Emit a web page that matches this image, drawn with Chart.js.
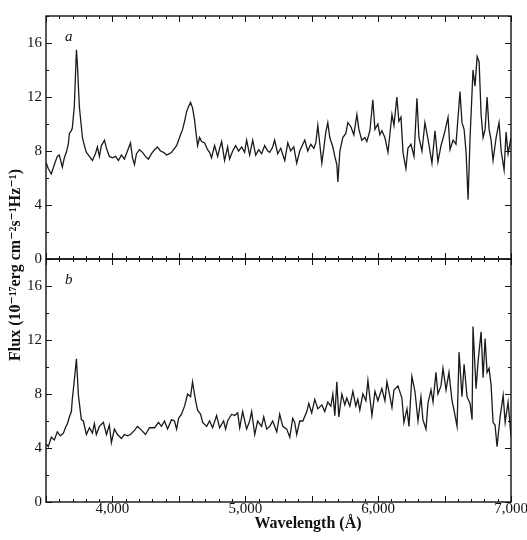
<!DOCTYPE html>
<html>
<head>
<meta charset="utf-8">
<script src="https://cdn.jsdelivr.net/npm/chart.js@4.4.1/dist/chart.umd.min.js"></script>
<style>
  html, body { margin: 0; padding: 0; background: #fff; }
  #wrap { width: 527px; height: 540px; }
</style>
</head>
<body>
<div id="wrap"><canvas id="spectra" width="527" height="540"></canvas></div>
<script>
// wavelength (Angstrom) and flux (1e-27 erg cm^-2 s^-1 Hz^-1)
var waveA = [3502, 3517, 3540, 3563, 3585, 3600, 3623, 3638, 3653, 3668, 3676, 3691, 3698, 3713, 3729, 3736, 3751, 3774, 3789, 3804,
    3827, 3849, 3872, 3887, 3902, 3917, 3940, 3955, 3977, 4000, 4023, 4045, 4068, 4090, 4113, 4136, 4151, 4166, 4181, 4204,
    4226, 4249, 4271, 4294, 4317, 4339, 4362, 4385, 4407, 4430, 4445, 4467, 4483, 4505, 4528, 4543, 4558, 4573, 4588, 4603,
    4618, 4626, 4641, 4656, 4671, 4694, 4716, 4731, 4746, 4769, 4792, 4807, 4822, 4844, 4867, 4882, 4905, 4927, 4950, 4973,
    4995, 5010, 5033, 5056, 5078, 5101, 5123, 5146, 5169, 5184, 5206, 5221, 5244, 5267, 5297, 5320, 5342, 5365, 5387, 5410,
    5433, 5448, 5470, 5493, 5516, 5531, 5546, 5561, 5576, 5591, 5606, 5621, 5636, 5659, 5674, 5689, 5697, 5712, 5734, 5757,
    5772, 5795, 5817, 5840, 5855, 5877, 5900, 5915, 5938, 5960, 5976, 5998, 6013, 6028, 6051, 6074, 6089, 6104, 6119, 6141,
    6156, 6172, 6187, 6209, 6224, 6247, 6270, 6292, 6307, 6330, 6352, 6375, 6405, 6428, 6450, 6473, 6496, 6526, 6541, 6564,
    6586, 6616, 6631, 6647, 6662, 6677, 6692, 6714, 6729, 6745, 6760, 6775, 6790, 6805, 6820, 6835, 6850, 6865, 6888, 6910,
    6926, 6948, 6963, 6978, 7000];
var fluxA = [7.1, 6.7, 6.3, 7.0, 7.6, 7.7, 6.8, 7.5, 7.9, 8.5, 9.3, 9.5, 9.7, 11.3, 15.5, 14.5, 11.3, 9.0, 8.4, 7.9,
    7.6, 7.3, 7.8, 8.3, 7.6, 8.4, 8.8, 8.2, 7.6, 7.5, 7.6, 7.3, 7.7, 7.4, 8.0, 8.6, 7.5, 7.0, 7.8, 8.1,
    7.9, 7.6, 7.4, 7.8, 8.1, 8.3, 8.0, 7.9, 7.7, 7.8, 7.9, 8.2, 8.4, 9.0, 9.6, 10.2, 10.9, 11.3, 11.6, 11.2,
    10.3, 9.6, 8.4, 9.0, 8.7, 8.6, 8.1, 7.9, 7.5, 8.4, 7.6, 8.2, 8.7, 7.3, 8.3, 7.4, 8.0, 8.4, 8.0, 8.3,
    7.9, 8.8, 7.7, 8.8, 7.7, 8.1, 7.8, 8.4, 8.0, 7.9, 8.3, 8.8, 7.8, 8.2, 7.3, 8.6, 8.0, 8.3, 7.1, 8.0,
    8.5, 8.8, 8.0, 8.5, 8.2, 8.6, 9.9, 8.5, 7.1, 8.2, 9.4, 10.1, 9.0, 8.3, 7.6, 7.0, 5.7, 8.0, 9.0, 9.3,
    10.1, 9.8, 9.2, 10.7, 9.6, 8.8, 9.0, 8.7, 9.5, 11.8, 9.6, 10.0, 9.2, 9.5, 9.0, 7.9, 9.3, 10.7, 9.9, 12.0,
    10.2, 10.5, 7.9, 6.7, 8.2, 8.5, 7.6, 11.9, 9.0, 8.0, 10.1, 8.9, 7.1, 9.5, 7.2, 8.4, 9.2, 10.5, 8.1, 8.8,
    8.5, 12.4, 10.1, 9.6, 7.9, 4.4, 9.0, 14.0, 12.8, 15.0, 14.6, 10.7, 9.0, 9.6, 12.0, 9.6, 8.8, 7.3, 9.0, 10.1,
    8.0, 6.6, 9.4, 7.8, 9.0];

var waveB = [3502, 3517, 3540, 3563, 3585, 3608, 3631, 3646, 3661, 3676, 3691, 3698, 3713, 3729, 3744, 3766, 3781, 3804, 3827, 3849,
    3864, 3879, 3902, 3932, 3955, 3977, 3992, 4015, 4038, 4068, 4090, 4113, 4136, 4166, 4188, 4211, 4249, 4279, 4317, 4347,
    4369, 4392, 4415, 4445, 4467, 4483, 4498, 4520, 4543, 4566, 4588, 4603, 4626, 4641, 4664, 4679, 4709, 4731, 4754, 4784,
    4807, 4837, 4852, 4867, 4897, 4920, 4943, 4958, 4980, 5010, 5033, 5048, 5071, 5093, 5123, 5139, 5161, 5184, 5206, 5237,
    5259, 5282, 5312, 5335, 5357, 5372, 5387, 5410, 5433, 5463, 5478, 5500, 5523, 5546, 5576, 5598, 5621, 5644, 5659, 5674,
    5689, 5704, 5727, 5749, 5764, 5787, 5810, 5832, 5847, 5862, 5885, 5908, 5923, 5953, 5976, 5998, 6028, 6051, 6066, 6089,
    6104, 6119, 6149, 6179, 6194, 6217, 6232, 6254, 6277, 6300, 6322, 6337, 6360, 6375, 6398, 6413, 6435, 6450, 6473, 6488,
    6511, 6533, 6556, 6571, 6594, 6609, 6631, 6647, 6669, 6692, 6707, 6714, 6737, 6752, 6775, 6790, 6805, 6820, 6835, 6850,
    6865, 6880, 6895, 6918, 6941, 6956, 6978, 7000];
var fluxB = [4.3, 4.1, 4.8, 4.6, 5.2, 4.9, 5.1, 5.5, 5.8, 6.3, 6.7, 7.6, 9.0, 10.6, 7.9, 6.1, 6.0, 5.0, 5.5, 5.1,
    5.8, 5.0, 5.6, 5.9, 5.0, 5.7, 4.4, 5.4, 5.0, 4.7, 5.0, 4.9, 5.0, 5.3, 5.6, 5.4, 5.0, 5.5, 5.5, 5.9,
    5.6, 6.0, 5.4, 6.1, 6.0, 5.4, 6.2, 6.5, 7.1, 8.0, 7.8, 8.9, 7.5, 6.8, 6.5, 5.9, 5.6, 6.0, 5.5, 6.4,
    5.5, 6.0, 5.4, 6.0, 6.5, 6.4, 6.6, 5.5, 6.7, 5.4, 6.0, 6.7, 5.0, 6.0, 5.6, 6.3, 5.4, 5.6, 6.0, 5.2,
    6.5, 5.6, 5.4, 4.8, 6.2, 5.9, 5.0, 6.0, 6.0, 6.7, 7.3, 6.6, 7.6, 6.9, 7.2, 6.7, 7.4, 7.1, 8.0, 6.4,
    8.9, 6.3, 8.0, 7.2, 7.7, 7.1, 8.2, 7.1, 7.6, 6.8, 8.0, 7.5, 9.0, 6.4, 8.2, 7.5, 8.4, 7.5, 8.9, 7.8,
    7.0, 8.3, 8.6, 7.7, 5.9, 6.9, 5.6, 9.3, 8.2, 6.0, 7.8, 6.1, 5.4, 7.3, 8.3, 7.4, 9.6, 8.0, 8.6, 9.9,
    8.3, 9.6, 7.5, 6.8, 5.6, 11.1, 7.8, 10.2, 7.8, 7.3, 6.1, 13.0, 8.4, 10.4, 12.6, 9.2, 12.1, 9.6, 9.9, 8.7,
    5.9, 5.7, 4.1, 6.3, 7.9, 5.9, 7.4, 4.9];

var xTickLabels = [4000, 5000, 6000, 7000];
var yTickLabels = [0, 4, 8, 12, 16];
var panelNames = ['a', 'b'];

var serif = "'Liberation Serif', 'DejaVu Serif', serif";

function toPoints(waves, fluxes) {
    return waves.map(function (w, i) { return { x: w, y: fluxes[i] }; });
}

function panelScale() {
    return {
        type: 'linear',
        position: 'left',
        stack: 'flux',
        stackWeight: 1,
        min: 0,
        max: 18,
        grid: { display: false, drawTicks: false },
        border: { display: false },
        ticks: { color: '#111', padding: 4, font: { family: serif, size: 15 } },
        afterBuildTicks: function (s) {
            s.ticks = yTickLabels.map(function (v) { return { value: v }; });
        },
        afterFit: function (s) { s.width = 46; }
    };
}

// frame, inward tick marks, panel letters and axis titles
var framePlugin = {
    id: 'frame',
    afterDraw: function (chart) {
        var ctx = chart.ctx;
        var area = chart.chartArea;
        var xs = chart.scales.x;
        ctx.save();
        ctx.strokeStyle = '#111';
        ctx.fillStyle = '#111';

        ['ya', 'yb'].forEach(function (id, k) {
            var s = chart.scales[id];
            var top = s.top, bottom = s.bottom;
            ctx.lineWidth = 1.4;
            ctx.strokeRect(area.left, top, area.right - area.left, bottom - top);

            ctx.lineWidth = 1;
            ctx.beginPath();
            for (var w = 3500; w <= 7000; w += 100) {
                var len = (w % 500 === 0) ? 6 : 3;
                var px = Math.round(xs.getPixelForValue(w)) + 0.5;
                ctx.moveTo(px, bottom); ctx.lineTo(px, bottom - len);
                ctx.moveTo(px, top); ctx.lineTo(px, top + len);
            }
            for (var f = 0; f <= 18; f += 2) {
                var l2 = (f % 4 === 0) ? 6 : 3;
                var py = Math.round(s.getPixelForValue(f)) + 0.5;
                ctx.moveTo(area.left, py); ctx.lineTo(area.left + l2, py);
                ctx.moveTo(area.right, py); ctx.lineTo(area.right - l2, py);
            }
            ctx.stroke();

            ctx.font = 'italic 15px ' + serif;
            ctx.textAlign = 'left';
            ctx.textBaseline = 'alphabetic';
            ctx.fillText(panelNames[k], area.left + 19, top + 25);
        });

        ctx.font = 'bold 16px ' + serif;
        ctx.textAlign = 'center';
        ctx.textBaseline = 'middle';
        ctx.fillText('Wavelength (\u00c5)', 308, area.bottom + 22);

        ctx.translate(16, (area.top + area.bottom) / 2 + 6);
        ctx.rotate(-Math.PI / 2);
        ctx.fillText('Flux (10\u207b\u00b9\u2077erg cm\u207b\u00b2s\u207b\u00b9Hz\u207b\u00b9)', 0, 0);
        ctx.restore();
    }
};

new Chart(document.getElementById('spectra'), {
    type: 'line',
    data: {
        datasets: [{
            data: toPoints(waveA, fluxA),
            yAxisID: 'ya',
            borderColor: '#1a1a1a',
            borderWidth: 1.3,
            pointRadius: 0,
            tension: 0
        }, {
            data: toPoints(waveB, fluxB),
            yAxisID: 'yb',
            borderColor: '#1a1a1a',
            borderWidth: 1.3,
            pointRadius: 0,
            tension: 0
        }]
    },
    options: {
        responsive: false,
        animation: false,
        devicePixelRatio: 1,
        layout: { padding: { top: 16, right: 16, bottom: 23, left: 0 } },
        plugins: {
            legend: { display: false },
            tooltip: { enabled: false }
        },
        scales: {
            x: {
                type: 'linear',
                position: 'bottom',
                min: 3500,
                max: 7000,
                grid: { display: false, drawTicks: false },
                border: { display: false },
                ticks: {
                    color: '#111',
                    padding: 0,
                    maxRotation: 0,
                    font: { family: serif, size: 15, lineHeight: 1 },
                    callback: function (v) { return v.toLocaleString('en-US'); }
                },
                afterBuildTicks: function (s) {
                    s.ticks = xTickLabels.map(function (v) { return { value: v }; });
                },
                afterFit: function (s) { s.paddingLeft = 0; s.paddingRight = 0; }
            },
            // stacked axes are laid out bottom-up, so the lower panel comes first
            yb: panelScale(),
            ya: panelScale()
        }
    },
    plugins: [framePlugin]
});
</script>
</body>
</html>
